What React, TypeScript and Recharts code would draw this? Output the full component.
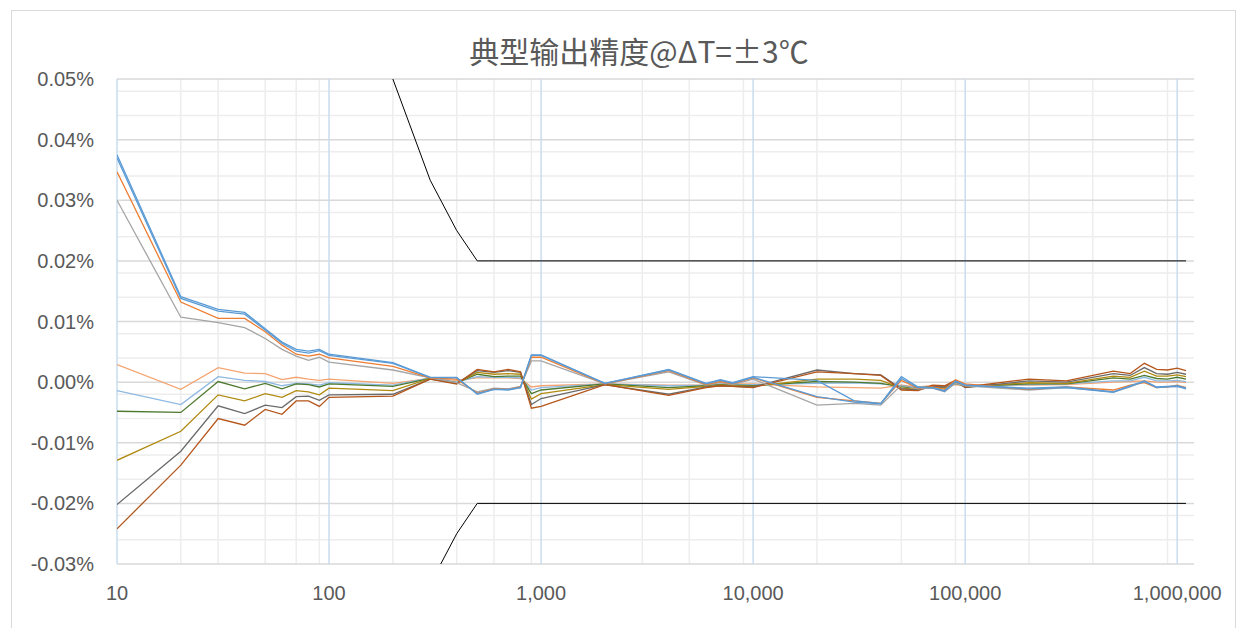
import React from 'react';
import { LineChart, Line, XAxis, YAxis, CartesianGrid } from 'recharts';

// x positions (frequency / count), log axis
const xs = [10, 20, 30, 40, 50, 60, 70, 80, 90, 100, 200, 300, 400, 500, 600, 700, 800, 900, 1000, 2000, 4000, 6000, 7000, 8000, 10000, 20000, 30000, 40000, 50000, 60000, 70000, 80000, 90000, 100000, 200000, 300000, 500000, 600000, 700000, 800000, 900000, 1000000, 1100000];

// values in percent
const blueA = [0.0375, 0.0141, 0.0120, 0.0115, 0.0088, 0.0066, 0.0054, 0.0051, 0.0054, 0.0046, 0.0032, 0.0008, 0.0008, -0.0020, -0.0012, -0.0013, -0.0009, 0.0045, 0.0045, -0.0002, 0.0021, -0.0002, 0.0004, -0.0001, 0.0009, 0.0003, -0.0031, -0.0035, 0.0009, -0.0008, -0.0009, -0.0015, 0.0002, -0.0005, -0.0010, -0.0008, -0.0016, -0.0006, 0.0002, -0.0008, -0.0007, -0.0006, -0.0010];
const blueB = [0.0370, 0.0138, 0.0117, 0.0112, 0.0086, 0.0064, 0.0051, 0.0048, 0.0052, 0.0044, 0.0031, 0.0008, 0.0007, -0.0019, -0.0012, -0.0012, -0.0009, 0.0044, 0.0044, -0.0002, 0.0020, -0.0003, 0.0003, -0.0002, 0.0008, -0.0024, -0.0033, -0.0036, 0.0006, -0.0009, -0.0009, -0.0014, 0.0001, -0.0005, -0.0011, -0.0009, -0.0017, -0.0007, 0.0001, -0.0009, -0.0008, -0.0007, -0.0011];
const orange = [0.0347, 0.0132, 0.0105, 0.0105, 0.0083, 0.0061, 0.0046, 0.0043, 0.0046, 0.0040, 0.0026, 0.0007, 0.0005, -0.0018, -0.0011, -0.0012, -0.0008, 0.0041, 0.0041, -0.0003, 0.0019, -0.0004, 0.0001, -0.0003, 0.0007, -0.0025, -0.0031, -0.0035, 0.0003, -0.0010, -0.0008, -0.0012, 0.0004, -0.0003, -0.0012, -0.0008, -0.0013, -0.0005, -0.0001, -0.0009, -0.0008, -0.0005, -0.0009];
const gray = [0.0300, 0.0107, 0.0098, 0.0090, 0.0072, 0.0054, 0.0043, 0.0036, 0.0041, 0.0033, 0.0020, 0.0007, -0.0001, -0.0016, -0.0010, -0.0011, -0.0007, 0.0035, 0.0035, -0.0003, 0.0017, -0.0005, -0.0001, -0.0004, 0.0005, -0.0038, -0.0035, -0.0038, -0.0005, -0.0011, -0.0010, -0.0016, -0.0002, -0.0006, -0.0013, -0.0009, -0.0016, -0.0008, 0.0002, -0.0009, -0.0008, -0.0007, -0.0009];
const lightOrange = [0.0029, -0.0012, 0.0024, 0.0015, 0.0014, 0.0004, 0.0008, 0.0005, 0.0003, 0.0005, -0.0002, 0.0006, 0.0003, 0.0007, 0.0007, 0.0007, 0.0006, -0.0008, -0.0006, -0.0003, -0.0005, -0.0005, -0.0004, -0.0003, -0.0003, -0.0008, -0.0009, -0.0010, -0.0005, -0.0008, -0.0006, -0.0006, -0.0004, -0.0005, -0.0005, -0.0004, 0.0000, 0.0001, 0.0002, 0.0000, 0.0000, 0.0001, -0.0001];
const lightBlue = [-0.0014, -0.0037, 0.0009, 0.0003, 0.0001, -0.0006, -0.0002, -0.0003, -0.0005, -0.0001, -0.0005, 0.0007, 0.0000, 0.0009, 0.0008, 0.0008, 0.0007, -0.0013, -0.0009, -0.0003, -0.0006, -0.0005, -0.0003, -0.0004, -0.0004, -0.0002, -0.0001, -0.0003, -0.0006, -0.0009, -0.0007, -0.0008, -0.0003, -0.0006, -0.0004, -0.0003, 0.0002, 0.0002, 0.0008, 0.0002, 0.0002, 0.0003, 0.0001];
const green = [-0.0048, -0.0050, 0.0001, -0.0011, -0.0002, -0.0011, -0.0003, -0.0004, -0.0008, -0.0003, -0.0007, 0.0006, -0.0001, 0.0013, 0.0009, 0.0010, 0.0010, -0.0019, -0.0013, -0.0003, -0.0009, -0.0006, -0.0004, -0.0005, -0.0006, 0.0001, 0.0000, -0.0002, -0.0008, -0.0010, -0.0007, -0.0009, -0.0002, -0.0007, -0.0003, -0.0003, 0.0007, 0.0005, 0.0011, 0.0006, 0.0005, 0.0008, 0.0005];
const gold = [-0.0129, -0.0081, -0.0021, -0.0031, -0.0019, -0.0025, -0.0014, -0.0016, -0.0021, -0.0010, -0.0014, 0.0006, -0.0002, 0.0016, 0.0013, 0.0014, 0.0013, -0.0028, -0.0019, -0.0004, -0.0012, -0.0007, -0.0005, -0.0006, -0.0007, 0.0005, 0.0005, 0.0003, -0.0010, -0.0012, -0.0008, -0.0010, -0.0001, -0.0008, -0.0001, -0.0002, 0.0010, 0.0008, 0.0018, 0.0010, 0.0010, 0.0012, 0.0009];
const darkGray = [-0.0202, -0.0114, -0.0039, -0.0052, -0.0038, -0.0042, -0.0024, -0.0023, -0.0030, -0.0021, -0.0020, 0.0005, -0.0002, 0.0019, 0.0016, 0.0019, 0.0016, -0.0037, -0.0027, -0.0004, -0.0020, -0.0008, -0.0006, -0.0007, -0.0008, 0.0020, 0.0014, 0.0012, -0.0011, -0.0013, -0.0007, -0.0008, 0.0002, -0.0009, 0.0002, 0.0000, 0.0014, 0.0011, 0.0024, 0.0014, 0.0013, 0.0016, 0.0013];
const darkOrange = [-0.0242, -0.0137, -0.0060, -0.0071, -0.0045, -0.0053, -0.0031, -0.0031, -0.0040, -0.0025, -0.0023, 0.0005, -0.0003, 0.0021, 0.0017, 0.0021, 0.0017, -0.0043, -0.0040, -0.0004, -0.0022, -0.0009, -0.0006, -0.0007, -0.0009, 0.0017, 0.0014, 0.0011, -0.0013, -0.0014, -0.0005, -0.0006, 0.0003, -0.0008, 0.0005, 0.0002, 0.0018, 0.0014, 0.0031, 0.0021, 0.0020, 0.0023, 0.0019];

// tolerance limits
const limitXs = [200, 300, 400, 500, 1100000];
const upperLimit = [0.05, 0.0333, 0.025, 0.02, 0.02];
const lowerLimit = [-0.05, -0.0333, -0.025, -0.02, -0.02];

const yTicks = [-0.03, -0.02, -0.01, 0, 0.01, 0.02, 0.03, 0.04, 0.05];
const yMinor = [-0.028, -0.026, -0.024, -0.022, -0.018, -0.016, -0.014, -0.012, -0.008, -0.006, -0.004, -0.002, 0.002, 0.004, 0.006, 0.008, 0.012, 0.014, 0.016, 0.018, 0.022, 0.024, 0.026, 0.028, 0.032, 0.034, 0.036, 0.038, 0.042, 0.044, 0.046, 0.048];
const xTicks = [10, 100, 1000, 10000, 100000, 1000000];
const xMinor = [20, 30, 40, 50, 60, 70, 80, 90, 200, 300, 400, 500, 600, 700, 800, 900, 2000, 3000, 4000, 5000, 6000, 7000, 8000, 9000, 20000, 30000, 40000, 50000, 60000, 70000, 80000, 90000, 200000, 300000, 400000, 500000, 600000, 700000, 800000, 900000];

const series = [
  { key: 'lightOrange', values: lightOrange, color: '#F4A470' },
  { key: 'lightBlue', values: lightBlue, color: '#8DB8E2' },
  { key: 'green', values: green, color: '#4E7A2F' },
  { key: 'gold', values: gold, color: '#B08A10' },
  { key: 'darkGray', values: darkGray, color: '#6A6A6A' },
  { key: 'darkOrange', values: darkOrange, color: '#B5551A' },
  { key: 'gray', values: gray, color: '#A5A5A5' },
  { key: 'orange', values: orange, color: '#ED7D31' },
  { key: 'blueB', values: blueB, color: '#5B9BD5' },
  { key: 'blueA', values: blueA, color: '#5B9BD5' },
];

const data = xs.map((x, i) => {
  const row: Record<string, number> = { x };
  series.forEach((s) => {
    row[s.key] = s.values[i];
  });
  return row;
});
const upperData = limitXs.map((x, i) => ({ x, v: upperLimit[i] }));
const lowerData = limitXs.map((x, i) => ({ x, v: lowerLimit[i] }));

const tickFont = { fontFamily: 'Liberation Sans, Arial, sans-serif', fontSize: 20, fill: '#595959' };

export default function App() {
  return (
    <div style={{ position: 'absolute', left: 0, top: 0, width: 1248, height: 628, overflow: 'hidden', background: '#fff' }}>
      <div style={{ position: 'absolute', left: 11, top: 10, width: 1225, height: 640, border: '1px solid #D9D9D9', boxSizing: 'border-box' }} />
      <div style={{ position: 'absolute', left: 0, top: 0 }}>
        <LineChart width={1248} height={628} data={data} margin={{ top: 79, right: 54, bottom: 0, left: 0 }}>
          <text x={639} y={63} textAnchor="middle" style={{ fontFamily: 'Noto Sans CJK SC, sans-serif', fontSize: 30, fill: '#595959' }}>
            典型输出精度@ΔT=±3℃
          </text>
          <CartesianGrid horizontalValues={yMinor} verticalValues={xMinor} stroke="#EDEDED" strokeWidth={1.5} />
          <CartesianGrid horizontalValues={yTicks} vertical={false} stroke="#D9D9D9" strokeWidth={1.5} />
          <CartesianGrid verticalValues={xTicks} horizontal={false} stroke="#C9DCF0" strokeWidth={1.5} />
          <XAxis
            dataKey="x"
            type="number"
            scale="log"
            domain={[10, 1200000]}
            ticks={xTicks}
            allowDataOverflow
            axisLine={false}
            tickLine={false}
            tickSize={0}
            tickMargin={22}
            height={64}
            tick={tickFont}
            tickFormatter={(v: number) => v.toLocaleString('en-US')}
          />
          <YAxis
            type="number"
            domain={[-0.03, 0.05]}
            ticks={yTicks}
            allowDataOverflow
            axisLine={false}
            tickLine={false}
            tickSize={0}
            tickMargin={23}
            width={117}
            tick={tickFont}
            tickFormatter={(v: number) => `${v.toFixed(2)}%`}
          />
          {series.map((s) => (
            <Line key={s.key} dataKey={s.key} stroke={s.color} strokeWidth={1.3} dot={false} isAnimationActive={false} type="linear" />
          ))}
          <Line data={upperData} dataKey="v" stroke="#000" strokeWidth={1} dot={false} isAnimationActive={false} type="linear" />
          <Line data={lowerData} dataKey="v" stroke="#000" strokeWidth={1} dot={false} isAnimationActive={false} type="linear" />
        </LineChart>
      </div>
    </div>
  );
}
